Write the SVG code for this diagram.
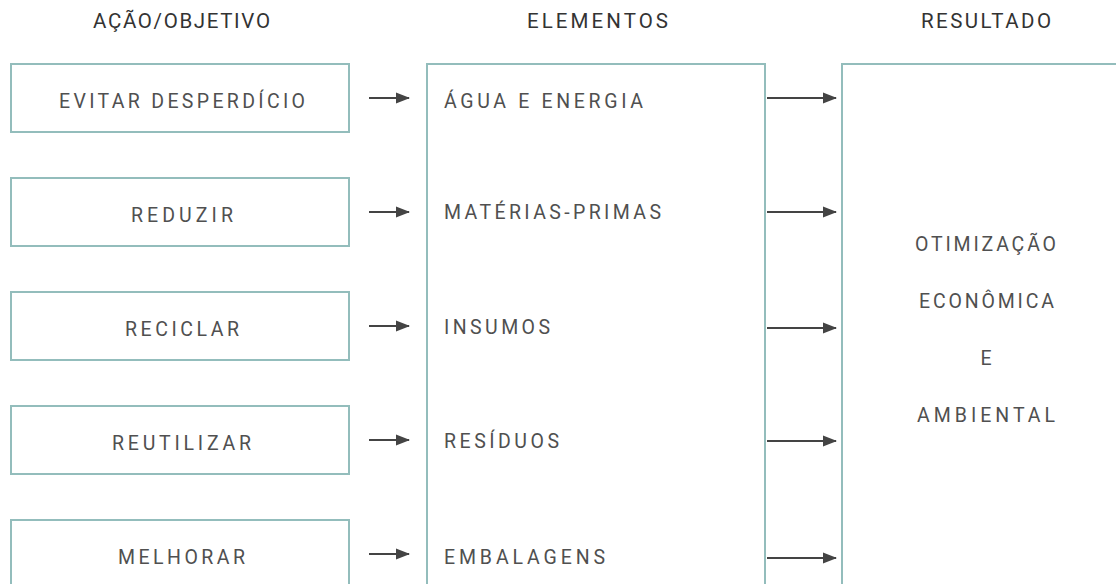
<svg xmlns="http://www.w3.org/2000/svg" width="1116" height="584" viewBox="0 0 1116 584">
<defs>
<style>
.box{fill:#fff;stroke:#93bdbc;stroke-width:2}
.t{font-family:Roboto,"Liberation Sans",sans-serif;font-size:19.5px;font-weight:400;fill:#505050}
.h{font-family:Roboto,"Liberation Sans",sans-serif;font-size:20.5px;fill:#333;text-anchor:middle}
.c{text-anchor:middle}
.a{stroke:#444;stroke-width:2;fill:none;marker-end:url(#ah)}
</style>
<marker id="ah" markerWidth="14" markerHeight="12" refX="13" refY="6" orient="auto" markerUnits="userSpaceOnUse">
<path d="M0,0.5 L14,6 L0,11.5 Z" fill="#444"/>
</marker>
</defs>
<rect width="1116" height="584" fill="#fff"/>
<g id="headers">
<text class="h" x="181.5" y="28" textLength="177" lengthAdjust="spacing">AÇÃO/OBJETIVO</text>
<text class="h" x="597.5" y="28" textLength="141" lengthAdjust="spacing">ELEMENTOS</text>
<text class="h" x="986" y="28" textLength="130" lengthAdjust="spacing">RESULTADO</text>
</g>
<g id="n1"><rect class="box" x="11" y="64" width="338" height="68"/><text class="t c" x="182" y="108" textLength="246" lengthAdjust="spacing">EVITAR DESPERDÍCIO</text></g>
<g id="n2"><rect class="box" x="11" y="178" width="338" height="68"/><text class="t c" x="182" y="222" textLength="102" lengthAdjust="spacing">REDUZIR</text></g>
<g id="n3"><rect class="box" x="11" y="292" width="338" height="68"/><text class="t c" x="182" y="336" textLength="114" lengthAdjust="spacing">RECICLAR</text></g>
<g id="n4"><rect class="box" x="11" y="406" width="338" height="68"/><text class="t c" x="181.5" y="450" textLength="139" lengthAdjust="spacing">REUTILIZAR</text></g>
<g id="n5"><rect class="box" x="11" y="520" width="338" height="80"/><text class="t c" x="181.5" y="564" textLength="127" lengthAdjust="spacing">MELHORAR</text></g>
<g id="elementos">
<rect class="box" x="427" y="64" width="338" height="540"/>
<text class="t" x="444" y="108" textLength="199" lengthAdjust="spacing">ÁGUA E ENERGIA</text>
<text class="t" x="444" y="219" textLength="217" lengthAdjust="spacing">MATÉRIAS-PRIMAS</text>
<text class="t" x="444" y="334" textLength="106" lengthAdjust="spacing">INSUMOS</text>
<text class="t" x="444" y="448" textLength="115" lengthAdjust="spacing">RESÍDUOS</text>
<text class="t" x="444" y="564" textLength="161" lengthAdjust="spacing">EMBALAGENS</text>
</g>
<g id="resultado">
<rect class="box" x="842" y="64" width="300" height="540"/>
<text class="t c" x="985.5" y="251" textLength="141" lengthAdjust="spacing">OTIMIZAÇÃO</text>
<text class="t c" x="986.5" y="308" textLength="135" lengthAdjust="spacing">ECONÔMICA</text>
<text class="t c" x="986" y="365">E</text>
<text class="t c" x="986" y="422" textLength="138" lengthAdjust="spacing">AMBIENTAL</text>
</g>
<g id="connectors">
<line class="a" x1="369" y1="98" x2="409" y2="98"/>
<line class="a" x1="369" y1="212" x2="409" y2="212"/>
<line class="a" x1="369" y1="326" x2="409" y2="326"/>
<line class="a" x1="369" y1="440" x2="409" y2="440"/>
<line class="a" x1="369" y1="554" x2="409" y2="554"/>
<line class="a" x1="767" y1="98" x2="836" y2="98"/>
<line class="a" x1="767" y1="212" x2="836" y2="212"/>
<line class="a" x1="767" y1="328" x2="836" y2="328"/>
<line class="a" x1="767" y1="441" x2="836" y2="441"/>
<line class="a" x1="767" y1="558" x2="836" y2="558"/>
</g>
</svg>
